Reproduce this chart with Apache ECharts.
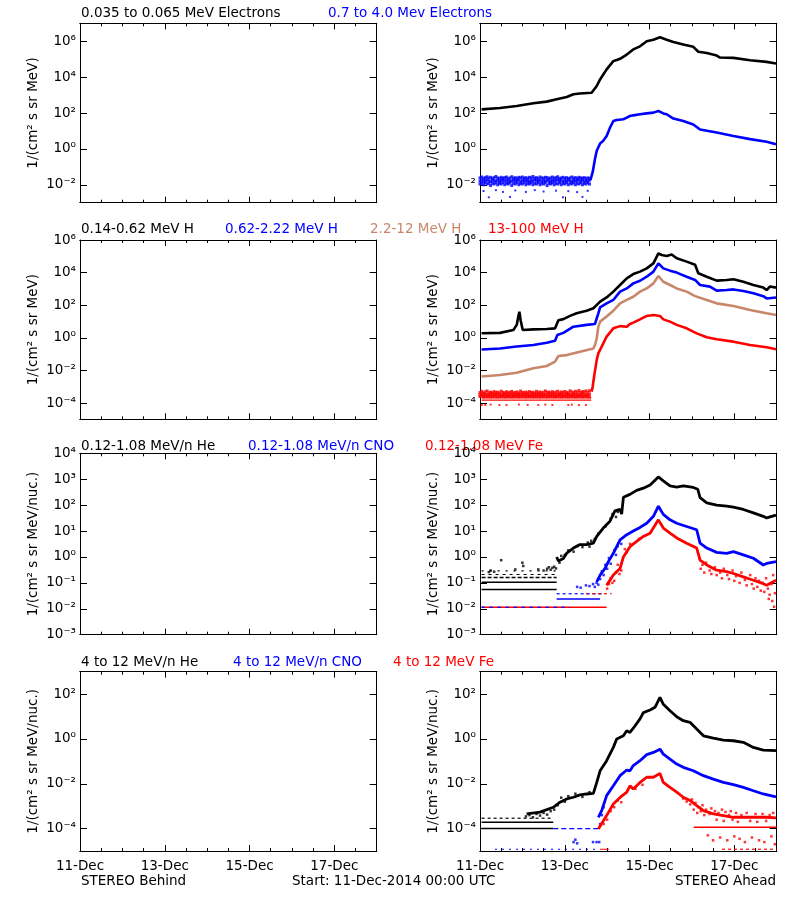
<!DOCTYPE html>
<html><head><meta charset="utf-8">
<script src="https://cdn.jsdelivr.net/npm/echarts@6/dist/echarts.min.js"></script>
<style>html,body{margin:0;padding:0;background:#fff}#c{width:800px;height:900px}</style>
</head><body><div id="c"></div>
<script>
// ---------- axis / label data ----------
const dayTickHours = [0, 48, 96, 144];
const dayTickLabels = ['11-Dec', '13-Dec', '15-Dec', '17-Dec'];
const rowRanges = [[1e-3, 1e7], [1e-5, 1e6], [1e-3, 1e4], [1e-5, 1e3]];
const rowTicks = [
  [1e-2, 1, 1e2, 1e4, 1e6],
  [1e-4, 1e-2, 1, 1e2, 1e4, 1e6],
  [1e-3, 1e-2, 1e-1, 1, 1e1, 1e2, 1e3, 1e4],
  [1e-4, 1e-2, 1, 1e2]
];
const rowUnits = ['1/(cm² s sr MeV)', '1/(cm² s sr MeV)', '1/(cm² s sr MeV/nuc.)', '1/(cm² s sr MeV/nuc.)'];
const titlesRow1 = ['0.035 to 0.065 MeV Electrons', '0.7 to 4.0 Mev Electrons'];
const titlesRow2 = ['0.14-0.62 MeV H', '0.62-2.22 MeV H', '2.2-12 MeV H', '13-100 MeV H'];
const titlesRow3 = ['0.12-1.08 MeV/n He', '0.12-1.08 MeV/n CNO', '0.12-1.08 MeV Fe'];
const titlesRow4 = ['4 to 12 MeV/n He', '4 to 12 MeV/n CNO', '4 to 12 MeV Fe'];
const footer = ['STEREO Behind', 'Start: 11-Dec-2014 00:00 UTC', 'STEREO Ahead'];

// ---------- series data: [hours since 11-Dec 00:00, flux] ----------
// Row 1: electrons (STEREO Ahead)
const eLow = [[0.9,160],[11.3,190],[20.8,245],[30.2,350],[37.8,430],[43.4,580],[44.4,710],[49.1,780],[52.9,1100],[56.6,1230],[63.2,1350],[66.1,3200],[68.0,7400],[69.8,14000],[71.7,27000],[75.5,78000],[77.4,90000],[79.3,105000],[83.1,180000],[86.8,350000],[90.6,520000],[94.4,1000000],[98.2,1200000],[101.9,1650000],[105.7,1200000],[109.5,910000],[115.1,650000],[120.8,490000],[123.6,260000],[128.4,220000],[134.0,160000],[135.9,123000],[143.5,118000],[152.9,87000],[162.3,71000],[167.6,58000]];
const eHigh = [[62.5,0.018],[63.8,0.05],[65.1,0.27],[66.1,0.78],[68.0,2.0],[69.8,2.8],[71.7,5.2],[73.6,15],[75.5,36],[77.4,41],[81.2,45],[83.1,55],[84.9,68],[86.8,74],[90.6,85],[94.4,95],[98.2,105],[101.0,129],[103.8,95],[105.7,85],[109.5,49],[115.1,36],[120.8,23],[124.6,12],[134.0,8.1],[143.5,5.2],[152.9,3.5],[162.3,2.5],[167.6,1.8]];
// background band rows: [hour, low, middle, high]
const eHighBg = [[0,0.011,0.016,0.024],[1,0.012,0.018,0.027],[2,0.010,0.015,0.022],[3,0.013,0.017,0.025],[4,0.011,0.019,0.028],[5,0.012,0.016,0.023],[6,0.009,0.015,0.026],[7,0.012,0.018,0.022],[8,0.011,0.017,0.025],[9,0.013,0.016,0.029],[10,0.010,0.018,0.024],[11,0.012,0.015,0.022],[12,0.011,0.017,0.026],[13,0.013,0.019,0.023],[14,0.010,0.016,0.025],[15,0.012,0.018,0.027],[16,0.011,0.015,0.022],[17,0.013,0.017,0.024],[18,0.009,0.016,0.028],[19,0.012,0.018,0.023],[20,0.011,0.017,0.025],[21,0.013,0.016,0.022],[22,0.010,0.019,0.026],[23,0.012,0.015,0.024],[24,0.011,0.017,0.027],[25,0.013,0.018,0.023],[26,0.010,0.016,0.025],[27,0.012,0.017,0.022],[28,0.011,0.015,0.026],[29,0.013,0.018,0.024],[30,0.010,0.016,0.029],[31,0.012,0.019,0.023],[32,0.011,0.017,0.025],[33,0.013,0.016,0.022],[34,0.010,0.018,0.027],[35,0.012,0.015,0.024],[36,0.011,0.017,0.023],[37,0.013,0.016,0.026],[38,0.009,0.018,0.025],[39,0.012,0.017,0.022],[40,0.011,0.015,0.024],[41,0.013,0.018,0.027],[42,0.010,0.016,0.023],[43,0.012,0.017,0.025],[44,0.011,0.019,0.028],[45,0.013,0.016,0.022],[46,0.010,0.018,0.024],[47,0.012,0.015,0.026],[48,0.011,0.017,0.023],[49,0.013,0.016,0.025],[50,0.010,0.018,0.022],[51,0.012,0.017,0.024],[52,0.011,0.015,0.027],[53,0.013,0.018,0.023],[54,0.010,0.016,0.025],[55,0.012,0.017,0.022],[56,0.011,0.019,0.026],[57,0.013,0.016,0.024],[58,0.010,0.018,0.023],[59,0.012,0.015,0.025],[60,0.011,0.017,0.022],[61,0.013,0.016,0.024],[62,0.011,0.018,0.023]];
const eHighOut = [[2,0.0045],[5,0.002],[9,0.005],[13,0.004],[17,0.0021],[20,0.0048],[26,0.004],[31,0.005],[36,0.0042],[43,0.0047],[47,0.002],[50,0.0044],[55,0.0039],[58,0.0021],[61,0.0046]];

// Row 2: protons (STEREO Ahead)
const hA = [[0.9,1.9],[11.3,2.0],[18.9,3.0],[20.8,6.2],[21.7,20],[22.3,40],[23.0,12],[24.2,3.0],[30.2,3.3],[37.8,3.5],[42.5,3.8],[44.4,12],[47.2,14],[51.0,22],[54.7,32],[60.4,46],[64.2,65],[68.0,166],[71.7,300],[75.5,680],[79.3,1740],[83.1,4470],[86.8,8100],[90.6,11500],[94.4,18200],[98.2,37000],[101.0,150000],[102.9,120000],[105.7,105000],[108.5,130000],[111.4,76000],[117.0,47000],[121.8,30000],[123.6,9100],[128.4,5600],[134.0,3200],[139.7,3500],[143.5,3900],[149.1,2750],[154.8,1740],[160.4,1200],[162.3,850],[164.2,1400],[167.6,1200]];
const hB = [[0.9,0.19],[11.3,0.22],[20.8,0.29],[30.2,0.36],[37.8,0.5],[42.5,0.66],[43.8,1.5],[47.2,2.0],[52.9,4.8],[60.4,6.2],[65.1,7.1],[67.0,32],[68.0,74],[71.7,130],[75.5,210],[79.3,680],[83.1,1070],[86.8,2190],[90.6,3160],[94.4,5600],[98.2,11500],[101.0,37000],[103.8,18200],[107.6,13200],[111.4,10000],[117.0,5600],[121.8,3550],[124.6,1740],[130.2,1380],[134.0,780],[139.7,850],[143.5,930],[149.1,740],[154.8,540],[160.4,360],[162.3,260],[167.6,300]];
const hC = [[0.9,0.0042],[11.3,0.0052],[20.8,0.0072],[30.2,0.0135],[37.8,0.0186],[42.5,0.035],[44.4,0.076],[49.1,0.087],[56.6,0.14],[64.2,0.22],[65.1,0.36],[66.1,0.93],[67.0,4.8],[68.0,9.8],[71.7,20],[75.5,46],[79.3,130],[83.1,210],[86.8,330],[90.6,680],[94.4,1070],[98.2,2190],[101.0,6200],[103.8,2750],[107.6,1740],[111.4,1070],[117.0,680],[121.8,360],[128.4,210],[134.0,130],[143.5,89],[152.9,51],[162.3,32],[167.6,25]];
const hD = [[63.2,0.0005],[63.8,0.001],[64.6,0.0042],[66.1,0.044],[67.0,0.11],[68.9,0.29],[71.7,1.17],[75.5,3.8],[79.3,5.2],[83.1,4.8],[84.9,7.1],[86.8,8.5],[90.6,13.5],[94.4,22],[98.2,25],[101.9,22],[103.8,13.5],[107.6,9.8],[111.4,6.2],[117.0,3.8],[122.7,1.86],[128.4,1.07],[134.0,0.81],[143.5,0.58],[152.9,0.36],[162.3,0.26],[167.6,0.2]];
const hDBg = [[0,2.5e-4,3.2e-4,4.4e-4],[1,2.7e-4,3.5e-4,5.2e-4],[2,2.4e-4,3.1e-4,4.1e-4],[3,2.6e-4,3.4e-4,4.8e-4],[4,2.5e-4,3.3e-4,5.5e-4],[5,2.7e-4,3.0e-4,4.3e-4],[6,2.4e-4,3.6e-4,4.6e-4],[7,2.6e-4,3.2e-4,4.2e-4],[8,2.5e-4,3.4e-4,5.0e-4],[9,2.7e-4,3.1e-4,4.4e-4],[10,2.4e-4,3.5e-4,4.7e-4],[11,2.6e-4,3.3e-4,4.1e-4],[12,2.5e-4,3.0e-4,5.3e-4],[13,2.7e-4,3.4e-4,4.5e-4],[14,2.4e-4,3.2e-4,4.2e-4],[15,2.6e-4,3.6e-4,4.9e-4],[16,2.5e-4,3.1e-4,4.3e-4],[17,2.7e-4,3.3e-4,4.6e-4],[18,2.4e-4,3.5e-4,5.1e-4],[19,2.6e-4,3.0e-4,4.2e-4],[20,2.5e-4,3.4e-4,4.4e-4],[21,2.7e-4,3.2e-4,4.8e-4],[22,2.4e-4,3.3e-4,4.1e-4],[23,2.6e-4,3.6e-4,5.4e-4],[24,2.5e-4,3.1e-4,4.5e-4],[25,2.7e-4,3.4e-4,4.3e-4],[26,2.4e-4,3.2e-4,4.7e-4],[27,2.6e-4,3.5e-4,4.2e-4],[28,2.5e-4,3.0e-4,5.0e-4],[29,2.7e-4,3.3e-4,4.4e-4],[30,2.4e-4,3.4e-4,4.6e-4],[31,2.6e-4,3.1e-4,4.1e-4],[32,2.5e-4,3.6e-4,5.2e-4],[33,2.7e-4,3.2e-4,4.3e-4],[34,2.4e-4,3.5e-4,4.8e-4],[35,2.6e-4,3.3e-4,4.2e-4],[36,2.5e-4,3.0e-4,4.5e-4],[37,2.7e-4,3.4e-4,5.5e-4],[38,2.4e-4,3.2e-4,4.4e-4],[39,2.6e-4,3.6e-4,4.7e-4],[40,2.5e-4,3.1e-4,4.2e-4],[41,2.7e-4,3.5e-4,5.0e-4],[42,2.4e-4,3.3e-4,4.3e-4],[43,2.6e-4,3.0e-4,4.6e-4],[44,2.5e-4,3.4e-4,5.3e-4],[45,2.7e-4,3.2e-4,4.1e-4],[46,2.4e-4,3.5e-4,4.8e-4],[47,2.6e-4,3.3e-4,4.4e-4],[48,2.5e-4,3.1e-4,5.1e-4],[49,2.7e-4,3.6e-4,4.5e-4],[50,2.4e-4,3.2e-4,4.2e-4],[51,2.6e-4,3.4e-4,5.6e-4],[52,2.5e-4,3.0e-4,4.7e-4],[53,2.7e-4,3.5e-4,4.3e-4],[54,2.4e-4,3.3e-4,5.2e-4],[55,2.6e-4,3.1e-4,4.6e-4],[56,2.5e-4,3.6e-4,5.8e-4],[57,2.7e-4,3.2e-4,4.4e-4],[58,2.4e-4,3.4e-4,5.0e-4],[59,2.6e-4,3.5e-4,4.8e-4],[60,2.5e-4,3.3e-4,5.5e-4],[61,2.7e-4,3.1e-4,4.5e-4],[62,2.4e-4,3.6e-4,5.7e-4]];
const hDLine1 = [[0.9,2.05e-4],[63,2.05e-4]];
const hDLine2 = [[0.9,1.5e-4],[63,1.5e-4]];
const hDOut = [[1,7.5e-5],[3,7.5e-5],[6,8e-5],[11,7.5e-5],[15,7.5e-5],[22,8e-5],[27,7.5e-5],[33,7.5e-5],[37,8e-5],[41,7.5e-5],[50,7.5e-5],[52,8e-5],[56,7.5e-5],[60,7.5e-5]];

// Row 3: 0.12-1.08 MeV/n ions (STEREO Ahead)
const heL = [[43.4,1.0],[44.4,0.7],[47.2,0.88],[49.1,1.4],[52.9,2.2],[56.6,3.0],[60.4,3.0],[64.2,3.4],[66.1,6.2],[69.8,13],[73.6,24],[76.4,60],[79.3,68],[80.2,45],[81.2,200],[84.9,260],[88.7,370],[92.5,450],[96.3,600],[101.0,1230],[103.8,870],[107.6,550],[111.4,500],[115.1,550],[120.8,480],[123.3,410],[124.6,195],[128.4,123],[134.0,100],[139.7,91],[143.5,83],[149.1,68],[154.8,50],[160.4,37],[162.3,32],[167.6,41]];
const cnoL = [[66.1,0.11],[68.0,0.2],[70.8,0.36],[72.7,0.66],[75.5,1.38],[79.3,4.6],[83.1,7.2],[86.8,10],[90.6,13.8],[94.4,20],[98.2,37],[101.0,91],[103.8,44],[107.6,27],[111.4,20],[117.0,15],[122.7,11.2],[124.6,3.4],[128.4,2.2],[134.0,1.5],[139.7,1.38],[143.5,1.6],[149.1,1.2],[154.8,0.89],[160.4,0.49],[162.3,0.56],[167.6,0.66]];
const feL = [[71.7,0.08],[75.5,0.2],[79.3,0.36],[81.2,1.0],[84.9,2.5],[88.7,4.0],[92.5,6.2],[96.3,8.3],[101.0,27],[103.8,13],[107.6,8.3],[111.4,5.4],[117.0,3.4],[122.7,2.2],[124.6,0.76],[128.4,0.49],[134.0,0.31],[139.7,0.27],[143.5,0.23],[149.1,0.17],[154.8,0.126],[160.4,0.093],[162.3,0.081],[167.6,0.126]];
const heLBg1 = [[0.9,0.055],[43.4,0.055]];
const heLBg2 = [[0.9,0.105],[43.4,0.105]];
const heLBg3 = [[0.9,0.16],[43.4,0.16]];
const heLBg4 = [[0.9,0.21],[43.4,0.21]];
const heLBg5 = [[0.9,0.29],[43.4,0.29]];
const heLDots = [[5,0.26],[6,0.3],[8,0.27],[12,0.75],[20,0.33],[24,0.6],[24.5,0.45],[33,0.33],[36,0.3],[38,0.35],[39,0.4],[40,0.32],[41,0.38],[42,0.42],[43,0.36],[45,0.6],[46,1.1],[48,1.2],[50,1.8],[53,1.6],[55,2.6],[58,2.4],[61,3.6],[62,2.5],[63,4.2],[65,5.0],[67,8],[71,15],[74,30],[75,45],[77,35],[78,55]];
const cnoLBg1 = [[0.9,0.0115],[51,0.0115]];
const cnoLBg2 = [[43.4,0.024],[68,0.024]];
const cnoLBg3 = [[43.4,0.038],[70,0.038]];
const cnoLDots = [[55,0.07],[57,0.065],[60,0.08],[62,0.075],[64,0.09],[65,0.07],[66,0.1],[67,0.085],[68,0.14],[69,0.28],[70,0.2],[71,0.5],[72,0.35],[73,0.9],[74,0.55],[76,1.8],[77,1.2],[78,2.6],[80,3.2]];
const feLBg1 = [[0.9,0.0115],[71.7,0.0115]];
const feLBg2 = [[60,0.038],[74.6,0.038]];
const feLDots = [[72,0.06],[73,0.09],[74,0.15],[75,0.1],[76,0.12],[77,0.25],[78,0.5],[79,0.22],[80,0.3],[82,2],[83,1.5],[85,3.2],[90,5],[125,0.35],[126,0.5],[127,0.25],[128,0.6],[130,0.3],[131,0.22],[133,0.4],[134,0.2],[136,0.25],[137,0.15],[138,0.35],[140,0.2],[141,0.14],[143,0.3],[144,0.12],[145,0.18],[147,0.1],[148,0.25],[150,0.13],[151,0.08],[153,0.2],[154,0.09],[155,0.06],[156,0.15],[157,0.07],[158,0.12],[159,0.05],[160,0.1],[161,0.045],[162,0.15],[163,0.06],[164,0.035],[165,0.09],[166,0.2],[167,0.04],[165.5,0.02],[166.5,0.012],[163.5,0.024]];

// Row 4: 4-12 MeV/n ions (STEREO Ahead)
const heH = [[26.4,4.5e-4],[34.0,5.4e-4],[41.5,8.9e-4],[45.3,1.5e-3],[49.1,2.1e-3],[52.9,2.5e-3],[56.6,3.2e-3],[60.4,3.5e-3],[64.2,3.7e-3],[66.1,1.15e-2],[68.0,3.8e-2],[71.7,0.107],[75.5,0.42],[77.4,1.0],[81.2,1.38],[83.1,2.3],[84.9,1.95],[86.8,3.0],[90.6,7.8],[92.5,15],[96.3,19.5],[99.1,25.7],[101.9,71],[103.8,35],[107.6,18],[111.4,9.8],[115.1,6.5],[118.9,5.5],[122.7,2.75],[126.5,1.38],[132.1,1.1],[137.8,0.89],[143.5,0.83],[149.1,0.71],[154.8,0.42],[160.4,0.32],[167.6,0.3]];
const cnoH = [[67.0,3.2e-4],[68.9,6.3e-4],[71.7,2.95e-3],[75.5,8.1e-3],[79.3,0.023],[83.1,0.041],[84.9,0.038],[86.8,0.065],[90.6,0.107],[94.4,0.2],[98.2,0.25],[101.9,0.35],[103.8,0.21],[107.6,0.126],[111.4,0.076],[115.1,0.054],[120.8,0.038],[126.5,0.023],[132.1,0.016],[137.8,0.0115],[143.5,0.0091],[149.1,0.0069],[154.8,0.0049],[160.4,0.0035],[167.6,0.0026]];
const feH = [[67.0,9.5e-5],[69.8,2.2e-4],[71.7,3.8e-4],[75.5,1.26e-3],[79.3,2.45e-3],[83.1,4.2e-3],[84.9,8.1e-3],[86.8,5.9e-3],[90.6,0.0115],[94.4,0.0195],[98.2,0.0195],[101.9,0.029],[103.8,0.0115],[107.6,0.0069],[111.4,0.0042],[115.1,0.0025],[118.9,0.0018],[122.7,0.00105],[126.5,6.3e-4],[132.1,4.5e-4],[137.8,3.8e-4],[143.5,3.2e-4],[152.9,3.2e-4],[162.3,3.2e-4],[167.6,3.0e-4]];
const heHBg1 = [[0.9,2.9e-4],[41.5,2.9e-4]];
const heHBg2 = [[0.9,1.9e-4],[41.5,1.9e-4]];
const heHBg3 = [[0.9,1.0e-4],[41.5,1.0e-4]];
const heHDots = [[26,3.5e-4],[28,4e-4],[30,3.2e-4],[32,4.5e-4],[34,3.8e-4],[36,5e-4],[38,4.2e-4],[40,6e-4],[42,7e-4],[44,1.1e-3],[46,2.4e-3],[48,1.6e-3],[50,2.8e-3],[54,3.6e-3],[58,2.6e-3],[62,4.2e-3]];
const cnoHBg1 = [[41.5,1.0e-4],[67,1.0e-4]];
const cnoHBg2 = [[8.5,1.2e-5],[68,1.2e-5]];
const cnoHDots = [[53,2.5e-5],[54,3.2e-5],[55,2.2e-5],[64,2.5e-5],[66,2.5e-5],[67.5,2.5e-5],[68,1.6e-4],[69,4e-4],[70,9e-4]];
const feHBg1 = [[68,1.2e-5],[73,1.2e-5]];
const feHBg2 = [[121,1.15e-4],[168,1.15e-4]];
const feHBg3 = [[137,1.2e-5],[168,1.2e-5]];
const feHDots = [[70,1.6e-4],[72,2.5e-4],[74,6e-4],[76,9e-4],[78,1.8e-3],[80,1.5e-3],[88,6e-3],[92,0.009],[115,2.2e-3],[117,1.6e-3],[119,1.2e-3],[120,2.0e-3],[121,7e-4],[122,1.4e-3],[123,5e-4],[124,9e-4],[125,6e-4],[126,1.1e-3],[127,4e-4],[128,7e-4],[129,5e-5],[130,4.5e-4],[131,8e-4],[132,3e-5],[133,6e-4],[134,2.5e-4],[135,5e-4],[136,4e-5],[137,7e-4],[138,2.2e-4],[139,5.5e-4],[140,3e-5],[141,4e-4],[142,6e-4],[143,2.5e-4],[144,4.5e-5],[145,5e-4],[146,2e-4],[147,3.5e-5],[148,4e-4],[150,2.5e-5],[151,5e-4],[153,2.2e-4],[154,4e-5],[156,4.5e-4],[157,2e-4],[158,3e-5],[160,4.5e-4],[161,2.5e-5],[162,2.2e-4],[164,4e-4],[165,4.5e-5],[166,5e-4],[167,2e-5]];

// ---------- layout ----------
const FONT = 'DejaVu Sans';
const FS = 13.5;
const BLACK = '#000000', BLUE = '#0000ff', BROWN = '#c8876a', RED = '#ff0000';
const COL_LEFT = [80, 480];
const PW = 296.7;
const ROW_TOP = [23.3, 240, 453.3, 671.7];
const ROW_H = [179.4, 179.3, 181.4, 179.3];

const SUP = {'0':'⁰','1':'¹','2':'²','3':'³','4':'⁴','5':'⁵','6':'⁶','7':'⁷','8':'⁸','9':'⁹','-':'⁻'};
function pow10Label(v) {
  const e = Math.round(Math.log10(v));
  return '10' + String(e).split('').map(c => SUP[c]).join('');
}

const grids = [], xAxes = [], yAxes = [];
for (let r = 0; r < 4; r++) {
  for (let c = 0; c < 2; c++) {
    const g = r * 2 + c;
    grids.push({left: COL_LEFT[c], top: ROW_TOP[r], width: PW, height: ROW_H[r], containLabel: false});
    const base = {
      gridIndex: g, type: 'value', min: 0, max: 168,
      axisLine: {show: true, onZero: false, lineStyle: {color: BLACK, width: 1}},
      splitLine: {show: false}, axisLabel: {show: false}
    };
    const tickMinor = {show: true, inside: true, length: 3, lineStyle: {color: BLACK, width: 1}};
    const tickMajor = {show: true, inside: true, length: 6, lineStyle: {color: BLACK, width: 1}};
    xAxes.push(Object.assign({}, base, {position: 'bottom', interval: 12, axisTick: tickMinor}));
    xAxes.push(Object.assign({}, base, {position: 'bottom', interval: 48, axisTick: tickMajor,
      axisLabel: r === 3 ? {show: true, margin: 8, fontSize: FS, fontFamily: FONT, color: BLACK,
        formatter: v => { const i = dayTickHours.indexOf(v); return i >= 0 ? dayTickLabels[i] : ''; }} : {show: false}}));
    xAxes.push(Object.assign({}, base, {position: 'top', interval: 12, axisTick: tickMinor}));
    xAxes.push(Object.assign({}, base, {position: 'top', interval: 48, axisTick: tickMajor}));
    const yb = {
      gridIndex: g, type: 'log', logBase: 10, min: rowRanges[r][0], max: rowRanges[r][1],
      splitLine: {show: false}, minorTick: {show: false},
      axisLine: {show: true, onZero: false, lineStyle: {color: BLACK, width: 1}},
      axisTick: {show: true, inside: true, length: 7, customValues: rowTicks[r], lineStyle: {color: BLACK, width: 1}}
    };
    yAxes.push(Object.assign({}, yb, {position: 'left',
      axisLabel: {show: true, customValues: rowTicks[r], formatter: pow10Label, fontSize: FS, fontFamily: FONT, color: BLACK, margin: 4},
      name: rowUnits[r], nameLocation: 'middle', nameGap: 40, nameRotate: 90,
      nameTextStyle: {fontSize: FS, fontFamily: FONT, color: BLACK}}));
    yAxes.push(Object.assign({}, yb, {position: 'right', axisLabel: {show: false}}));
  }
}

function ax(r) { const g = r * 2 + 1; return {xAxisIndex: 4 * g, yAxisIndex: 2 * g}; }
function L(data, color, r, w, type) {
  return Object.assign({type: 'line', data: data, symbol: 'none', showSymbol: false, silent: true, animation: false,
    lineStyle: {color: color, width: w || 2.5, type: type || 'solid'}}, ax(r));
}
function S(data, color, r, size) {
  return Object.assign({type: 'scatter', data: data, symbol: 'rect', symbolSize: size || 2.5, silent: true, animation: false,
    itemStyle: {color: color}}, ax(r));
}
function band(rows) { const out = []; rows.forEach(p => { out.push([p[0], p[1]], [p[0], p[2]], [p[0], p[3]]); }); return out; }

const series = [
  // row 1
  L(eLow, BLACK, 0, 2.6),
  S(band(eHighBg), BLUE, 0, 3), S(eHighOut, BLUE, 0, 2),
  L(eHigh, BLUE, 0, 2.6),
  // row 2
  L(hA, BLACK, 1, 2.6), L(hB, BLUE, 1, 2.6), L(hC, BROWN, 1, 2.6),
  S(band(hDBg), RED, 1, 3), L(hDLine1, RED, 1, 1.2), L(hDLine2, RED, 1, 1.2), S(hDOut, RED, 1, 2),
  L(hD, RED, 1, 2.6),
  // row 3
  L(heLBg1, BLACK, 2, 1.5), L(heLBg2, BLACK, 2, 1.5), L(heLBg3, BLACK, 2, 1.5, [4, 2]), L(heLBg4, BLACK, 2, 1.2, [3, 4]), L(heLBg5, BLACK, 2, 1.2, [2, 6]),
  S(heLDots, BLACK, 2, 2.5), L(heL, BLACK, 2, 2.8),
  L(feLBg1, RED, 2, 1.5), L(cnoLBg1, BLUE, 2, 1.5, [3, 5]), L(cnoLBg2, BLUE, 2, 1.5), L(cnoLBg3, BLUE, 2, 1.2, [3, 3]),
  S(cnoLDots, BLUE, 2, 2.5), L(cnoL, BLUE, 2, 2.8),
  L(feLBg2, RED, 2, 1.2, [3, 3]), S(feLDots, RED, 2, 2.5), L(feL, RED, 2, 2.8),
  // row 4
  L(heHBg1, BLACK, 3, 1.2, [3, 3]), L(heHBg2, BLACK, 3, 1.5), L(heHBg3, BLACK, 3, 1.5),
  S(heHDots, BLACK, 3, 2.5), L(heH, BLACK, 3, 2.8),
  L(cnoHBg1, BLUE, 3, 1.2, [5, 3]), L(cnoHBg2, BLUE, 3, 1.2, [2, 5]), S(cnoHDots, BLUE, 3, 2.5), L(cnoH, BLUE, 3, 2.8),
  L(feHBg1, RED, 3, 1.2), L(feHBg2, RED, 3, 1.5), L(feHBg3, RED, 3, 1.2, [3, 3]), S(feHDots, RED, 3, 2.5), L(feH, RED, 3, 2.8)
];

function txt(x, y, text, color, align) {
  return {type: 'text', x: x, y: y, silent: true,
    style: {text: text, fill: color, font: FS + 'px "' + FONT + '"', align: align || 'left', verticalAlign: 'middle',
      textAlign: align || 'left', textVerticalAlign: 'middle'}};
}
const graphics = [
  txt(81, 13.5, titlesRow1[0], BLACK), txt(328, 13.5, titlesRow1[1], BLUE),
  txt(81, 229.5, titlesRow2[0], BLACK), txt(225, 229.5, titlesRow2[1], BLUE), txt(370, 229.5, titlesRow2[2], BROWN), txt(488, 229.5, titlesRow2[3], RED),
  txt(81, 446, titlesRow3[0], BLACK), txt(248, 446, titlesRow3[1], BLUE), txt(425, 446, titlesRow3[2], RED),
  txt(81, 662, titlesRow4[0], BLACK), txt(233, 662, titlesRow4[1], BLUE), txt(393, 662, titlesRow4[2], RED),
  txt(81, 881, footer[0], BLACK), txt(292, 881, footer[1], BLACK), txt(776, 881, footer[2], BLACK, 'right')
];

const chart = echarts.init(document.getElementById('c'), null, {renderer: 'canvas', width: 800, height: 900});
chart.setOption({
  backgroundColor: '#ffffff',
  animation: false,
  grid: grids, xAxis: xAxes, yAxis: yAxes, series: series,
  graphic: graphics
});
</script></body></html>
